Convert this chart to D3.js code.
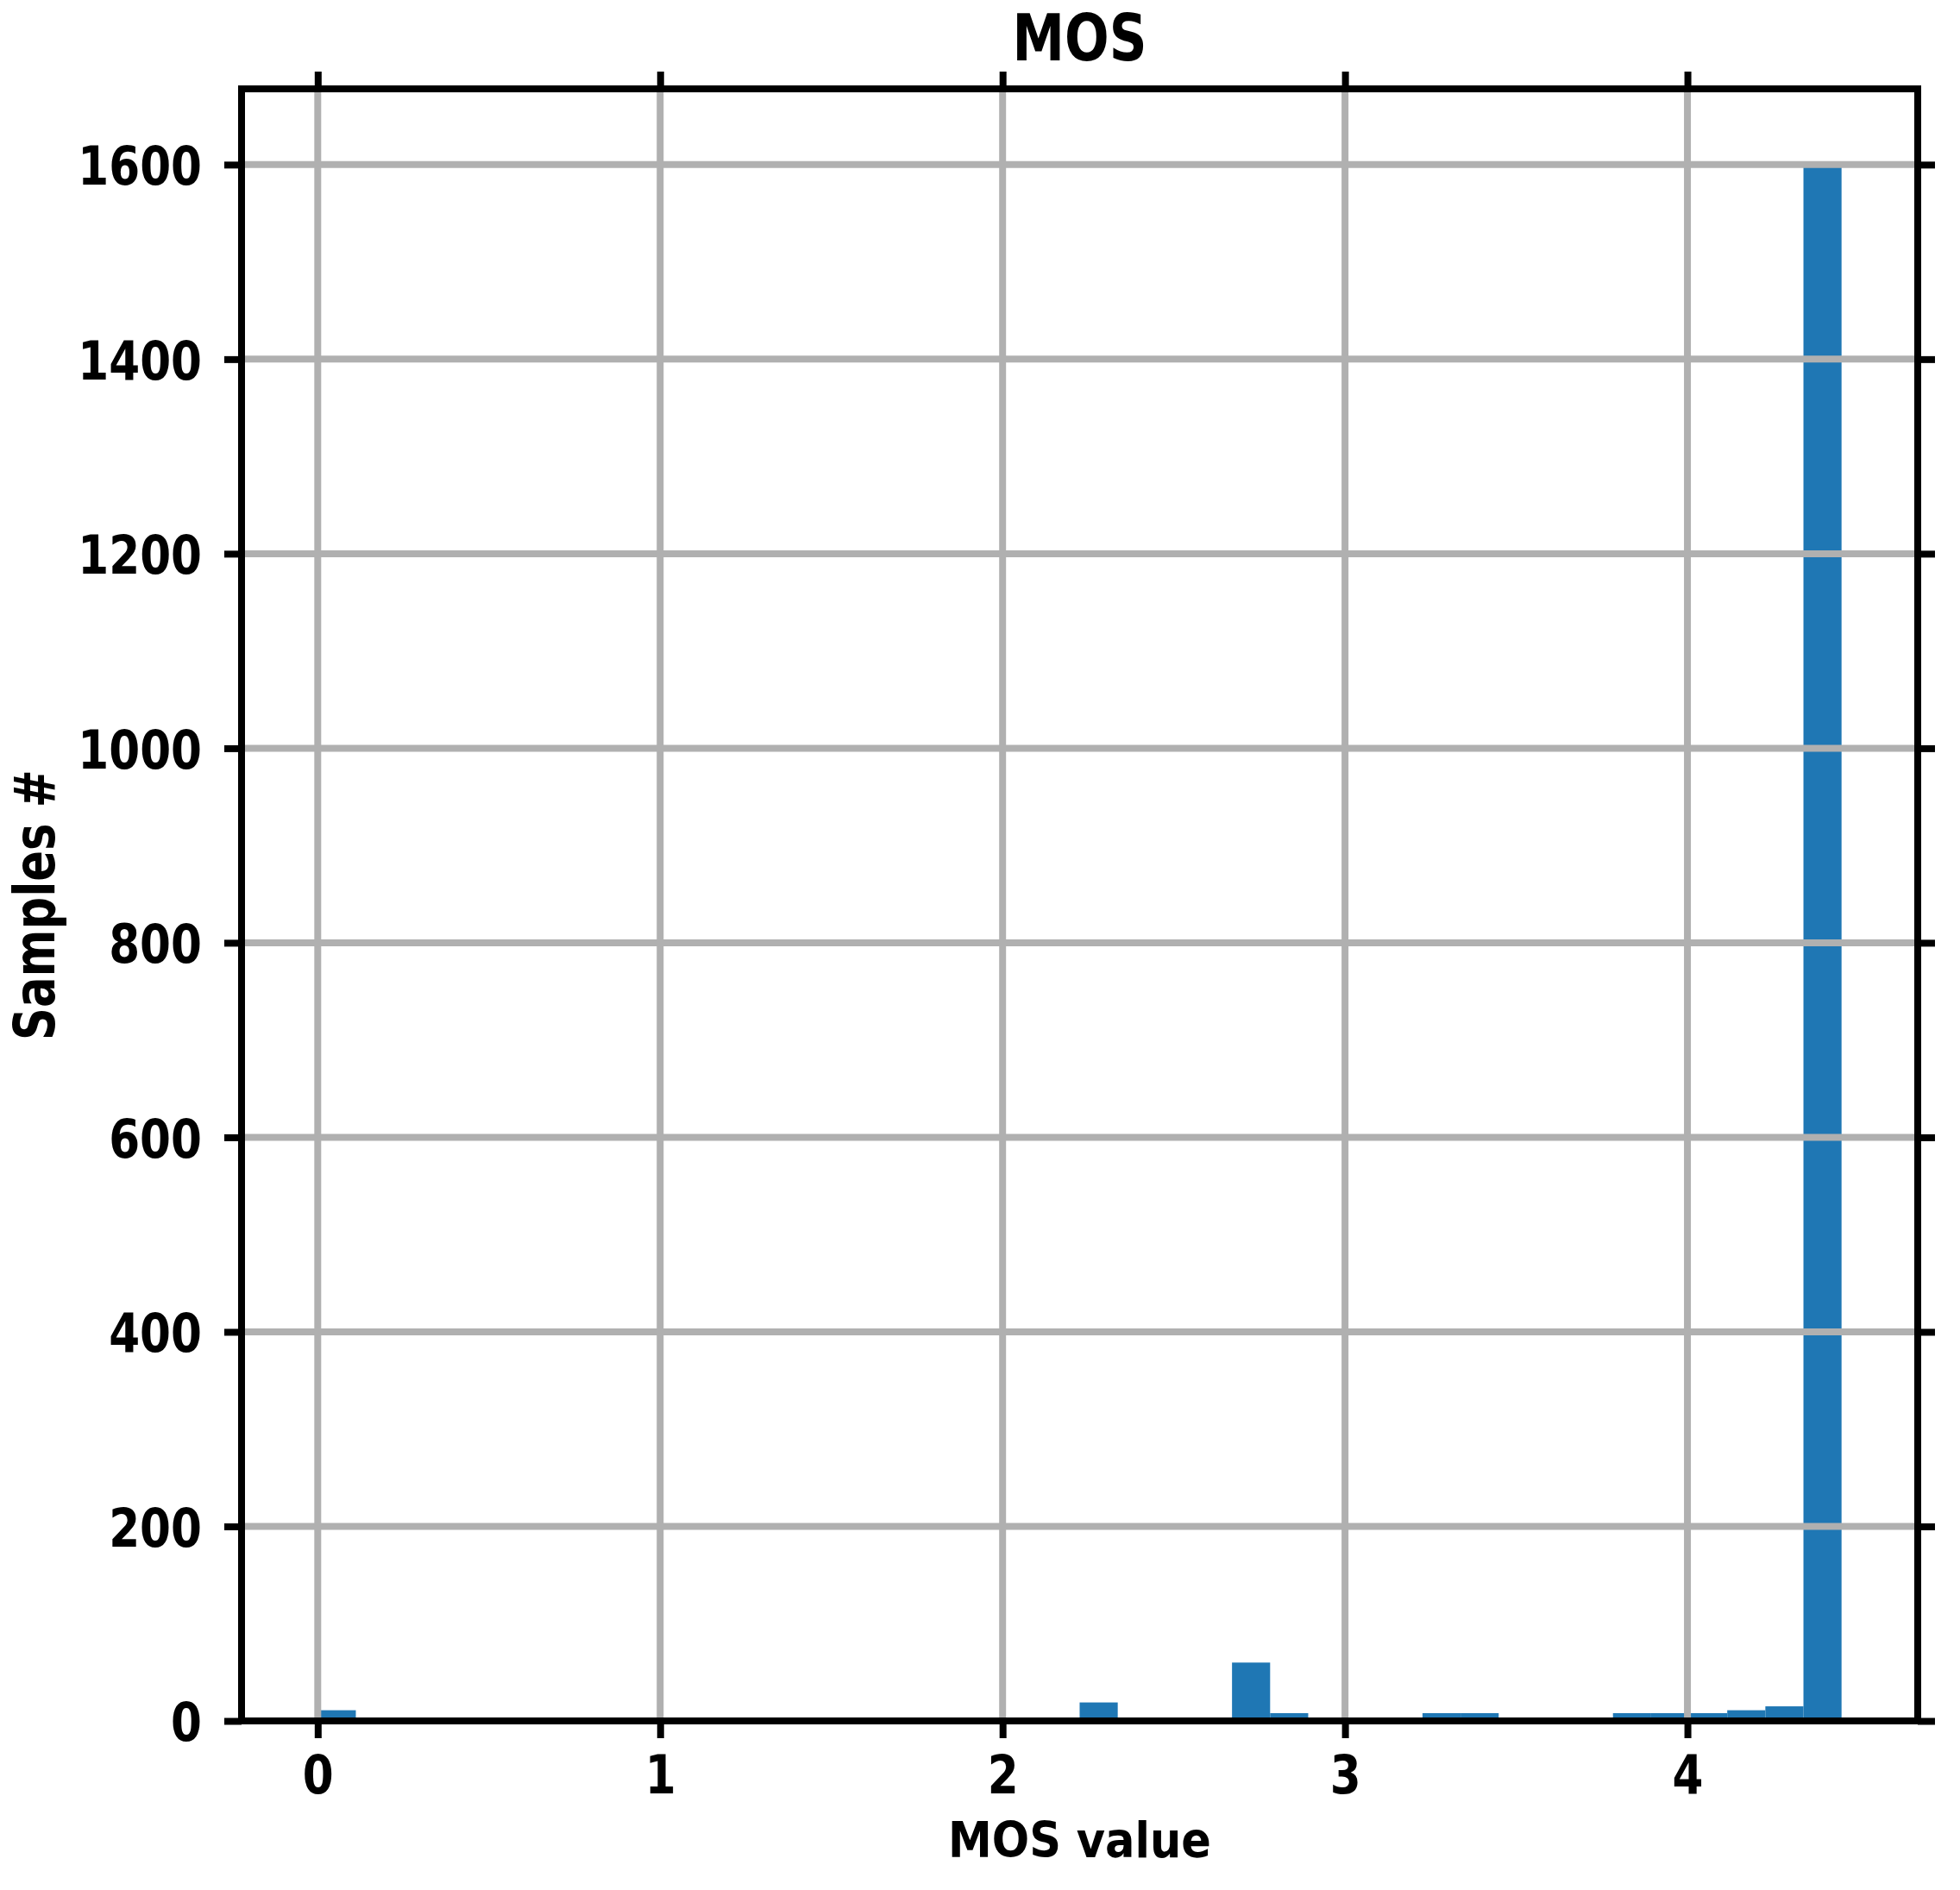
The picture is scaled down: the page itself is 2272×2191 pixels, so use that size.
<!DOCTYPE html>
<html><head><meta charset="utf-8">
<script src="https://cdn.jsdelivr.net/npm/d3@7"></script>
<style>html,body{margin:0;padding:0;background:#fff}svg{display:block}</style>
</head><body><svg id="chart"></svg>
<script>
// ---- data ----
const chartTitle = "MOS";
const xAxisLabel = "MOS value";
const yAxisLabel = "Samples #";
const binRange = [0, 4.45];          // histogram range (40 equal bins)
const binCounts = [
  11, 0, 0, 0, 0, 0, 0, 0, 0, 0,
   0, 0, 0, 0, 0, 0, 0, 0, 0, 0,
  19, 0, 0, 0, 60, 8, 0, 0, 0, 8,
   8, 0, 0, 0, 8, 8, 8, 11, 15, 1598
];
const xTickValues = [0, 1, 2, 3, 4];
const xTickLabels = ["0", "1", "2", "3", "4"];
const yTickValues = [0, 200, 400, 600, 800, 1000, 1200, 1400, 1600];
const yTickLabels = ["0", "200", "400", "600", "800", "1000", "1200", "1400", "1600"];

// ---- layout ----
const W = 2272, H = 2191;
const L = 280, R = 2223, T = 103, B = 1995;
const LW = 8, TICK = 20, FONT = "'DejaVu Sans', sans-serif";
const BAR = "#1f77b4", GRID = "#b0b0b0";
const SX = 0.82;

const svg = d3.select("#chart").attr("width", W).attr("height", H);
svg.append("rect").attr("width", W).attr("height", H).attr("fill", "#fff");

const nBins = binCounts.length;
const bw = (binRange[1] - binRange[0]) / nBins;
const bins = binCounts.map((c, i) => ({x0: binRange[0] + i * bw, x1: binRange[0] + (i + 1) * bw, c}));
const xPad = 0.05 * (binRange[1] - binRange[0]);
const x = d3.scaleLinear().domain([binRange[0] - xPad, binRange[1] + xPad]).range([L, R]);
const y = d3.scaleLinear().domain([0, 1.05 * d3.max(binCounts)]).range([B, T]);

// bars
svg.append("g").selectAll("rect").data(bins.filter(d => d.c > 0)).join("rect")
  .attr("x", d => x(d.x0)).attr("width", d => x(d.x1) - x(d.x0))
  .attr("y", d => y(d.c)).attr("height", d => y(0) - y(d.c))
  .attr("fill", BAR);

// grid
const grid = svg.append("g").attr("stroke", GRID).attr("stroke-width", LW);
grid.selectAll("line.v").data(xTickValues).join("line").attr("class", "v")
  .attr("x1", d => x(d)).attr("x2", d => x(d)).attr("y1", T).attr("y2", B);
grid.selectAll("line.h").data(yTickValues).join("line").attr("class", "h")
  .attr("x1", L).attr("x2", R).attr("y1", d => y(d)).attr("y2", d => y(d));

// spines
svg.append("rect").attr("x", L).attr("y", T).attr("width", R - L).attr("height", B - T)
  .attr("fill", "none").attr("stroke", "#000").attr("stroke-width", LW);

function styleAxis(g) {
  g.select(".domain").remove();
  g.selectAll(".tick line").attr("stroke", "#000").attr("stroke-width", LW);
  g.selectAll("text").attr("font-family", FONT).attr("font-weight", "bold")
    .attr("font-size", 63).attr("fill", "#000");
}

// bottom axis
const gx = svg.append("g").attr("transform", `translate(0,${B})`)
  .call(d3.axisBottom(x).tickValues(xTickValues).tickFormat((d, i) => xTickLabels[i])
    .tickSizeInner(TICK).tickSizeOuter(0));
styleAxis(gx);
gx.selectAll("text").attr("y", 84).attr("dy", 0).attr("transform", `scale(${SX},1)`);

// left axis
const gy = svg.append("g").attr("transform", `translate(${L},0)`)
  .call(d3.axisLeft(y).tickValues(yTickValues).tickFormat((d, i) => yTickLabels[i])
    .tickSizeInner(TICK).tickSizeOuter(0));
styleAxis(gy);
gy.selectAll("text").attr("x", -46 / SX).attr("dy", "0.36em").attr("transform", `scale(${SX},1)`);

// top & right ticks (no labels)
const gt = svg.append("g").attr("transform", `translate(0,${T})`)
  .call(d3.axisTop(x).tickValues(xTickValues).tickFormat("").tickSizeInner(TICK).tickSizeOuter(0));
styleAxis(gt);
const gr = svg.append("g").attr("transform", `translate(${R},0)`)
  .call(d3.axisRight(y).tickValues(yTickValues).tickFormat("").tickSizeInner(TICK).tickSizeOuter(0));
styleAxis(gr);

// title and labels
const cx = (L + R) / 2;
svg.append("text").attr("x", cx).attr("y", 70).attr("text-anchor", "middle")
  .attr("font-family", FONT).attr("font-weight", "bold").attr("font-size", 75)
  .attr("textLength", 156).attr("lengthAdjust", "spacingAndGlyphs").text(chartTitle);
svg.append("text").attr("x", cx).attr("y", 2153).attr("text-anchor", "middle")
  .attr("font-family", FONT).attr("font-weight", "bold").attr("font-size", 57)
  .attr("textLength", 305).attr("lengthAdjust", "spacingAndGlyphs").text(xAxisLabel);
svg.append("text").attr("transform", `translate(63,${(T + B) / 2})rotate(-90)`)
  .attr("text-anchor", "middle")
  .attr("font-family", FONT).attr("font-weight", "bold").attr("font-size", 66)
  .attr("textLength", 314).attr("lengthAdjust", "spacingAndGlyphs").text(yAxisLabel);
</script>
</body></html>
